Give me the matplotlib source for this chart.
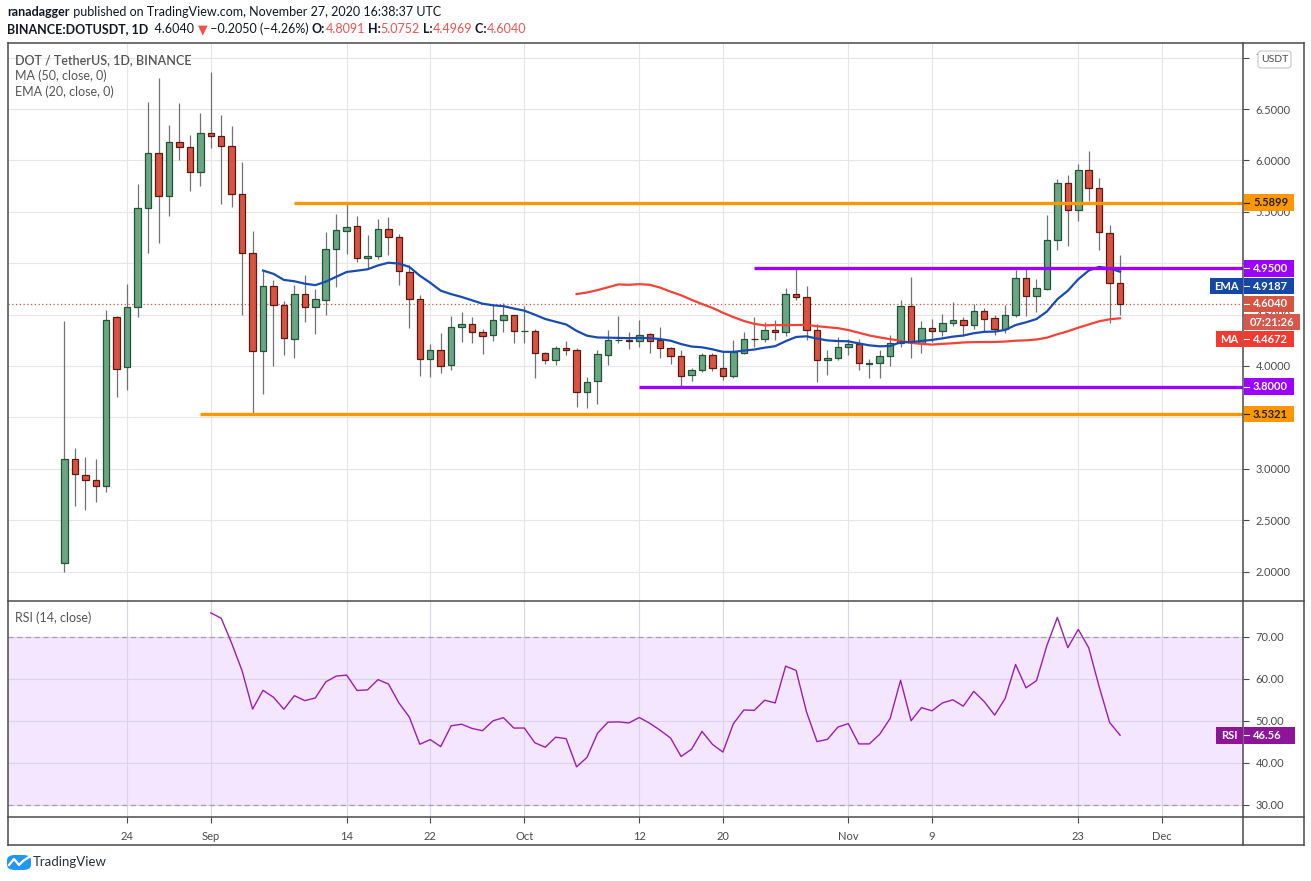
import numpy as np
import pandas as pd
import matplotlib
matplotlib.use("Agg")
import matplotlib.pyplot as plt
from matplotlib.patches import Rectangle, FancyBboxPatch
from matplotlib.lines import Line2D

# daily candles, Binance DOT/USDT, starting 2020-08-18
start_date = "2020-08-18"
opens = [2.087, 3.097, 2.941, 2.892, 2.833, 4.476, 3.986, 4.576, 5.538, 6.073,
         5.653, 6.177, 6.132, 5.889, 6.264, 6.236, 6.139, 5.674, 5.101, 4.146,
         4.778, 4.594, 4.264, 4.701, 4.576, 4.642, 5.139, 5.313, 5.361, 5.052,
         5.069, 5.333, 5.257, 4.917, 4.653, 4.068, 4.156, 4.010, 4.380, 4.409,
         4.331, 4.302, 4.448, 4.497, 4.341, 4.341, 4.127, 4.058, 4.175, 4.156,
         3.747, 3.854, 4.107, 4.250, 4.253, 4.244, 4.312, 4.253, 4.175, 4.097,
         3.912, 3.961, 4.107, 3.981, 3.903, 4.127, 4.263, 4.263, 4.351, 4.331,
         4.701, 4.672, 4.351, 4.058, 4.078, 4.182, 4.215, 4.020, 4.033, 4.098,
         4.221, 4.585, 4.221, 4.367, 4.338, 4.416, 4.446, 4.397, 4.533, 4.465,
         4.358, 4.498, 4.855, 4.680, 4.748, 5.229, 5.782, 5.519, 5.909, 5.733,
         5.294, 4.8091]
highs = [4.438, 3.198, 3.111, 3.090, 4.549, 4.490, 4.802, 5.774, 6.566, 6.806,
         6.347, 6.563, 6.250, 6.465, 6.861, 6.444, 6.337, 5.983, 5.313, 4.924,
         4.837, 4.628, 4.788, 4.889, 4.753, 5.299, 5.483, 5.583, 5.455, 5.278,
         5.427, 5.451, 5.281, 4.979, 4.688, 4.212, 4.325, 4.490, 4.526, 4.481,
         4.360, 4.591, 4.617, 4.500, 4.584, 4.360, 4.140, 4.195, 4.244, 4.175,
         3.893, 4.156, 4.354, 4.490, 4.334, 4.451, 4.321, 4.383, 4.185, 4.156,
         3.984, 4.127, 4.127, 4.136, 4.253, 4.331, 4.481, 4.429, 4.451, 4.756,
         4.948, 4.782, 4.409, 4.156, 4.282, 4.260, 4.260, 4.065, 4.156, 4.302,
         4.644, 4.862, 4.433, 4.459, 4.507, 4.621, 4.475, 4.605, 4.563, 4.498,
         4.595, 4.937, 4.946, 4.846, 5.473, 5.815, 5.857, 5.961, 6.091, 5.831,
         5.376, 5.0752]
lows = [2.000, 2.635, 2.597, 2.677, 2.771, 3.701, 3.771, 4.472, 5.097, 5.194,
        5.455, 6.000, 5.698, 5.750, 6.118, 5.573, 5.549, 4.493, 3.535, 3.726,
        4.000, 4.108, 4.076, 4.431, 4.309, 4.493, 4.767, 5.090, 5.014, 4.944,
        5.038, 5.083, 4.785, 4.368, 3.899, 3.892, 3.932, 3.958, 4.231, 4.221,
        4.114, 4.240, 4.328, 4.221, 4.221, 3.880, 4.016, 4.006, 4.104, 3.597,
        3.588, 3.630, 4.006, 4.221, 4.162, 4.185, 4.127, 4.078, 4.019, 3.795,
        3.854, 3.942, 3.951, 3.864, 3.883, 4.117, 4.185, 4.234, 4.253, 4.292,
        4.643, 4.250, 3.844, 3.912, 4.058, 4.107, 3.961, 3.880, 3.880, 4.000,
        4.189, 4.075, 4.124, 4.231, 4.296, 4.393, 4.296, 4.358, 4.345, 4.302,
        4.325, 4.481, 4.491, 4.530, 4.735, 5.125, 5.164, 5.408, 5.603, 5.125,
        4.423, 4.4969]
closes = [3.097, 2.951, 2.892, 2.833, 4.448, 3.972, 4.576, 5.538, 6.073, 5.653,
          6.177, 6.132, 5.889, 6.267, 6.236, 6.139, 5.674, 5.101, 4.146, 4.778,
          4.594, 4.274, 4.701, 4.576, 4.653, 5.139, 5.323, 5.354, 5.052, 5.069,
          5.333, 5.257, 4.922, 4.653, 4.068, 4.156, 4.000, 4.380, 4.409, 4.331,
          4.292, 4.448, 4.497, 4.341, 4.342, 4.127, 4.058, 4.175, 4.156, 3.747,
          3.847, 4.117, 4.253, 4.256, 4.244, 4.302, 4.244, 4.175, 4.097, 3.903,
          3.961, 4.107, 3.981, 3.903, 4.136, 4.263, 4.260, 4.351, 4.331, 4.701,
          4.672, 4.351, 4.058, 4.078, 4.185, 4.215, 4.026, 4.026, 4.098, 4.221,
          4.585, 4.231, 4.367, 4.338, 4.416, 4.446, 4.397, 4.533, 4.459, 4.358,
          4.498, 4.855, 4.680, 4.758, 5.229, 5.782, 5.519, 5.909, 5.733, 5.304,
          4.809, 4.6040]

# values printed on the scale tags
ema_last = 4.9187
ma_last = 4.4672
rsi_last = 46.56
countdown = "07:21:26"

# drawn horizontal levels: (price, start date, colour, tag text colour)
levels = [(5.5899, "2020-09-09", "#ff9800", "#222222"),
          (3.5321, "2020-08-31", "#ff9800", "#222222"),
          (4.9500, "2020-10-23", "#9c00ff", "white"),
          (3.8000, "2020-10-12", "#9c00ff", "white")]

tick_dates = ["2020-08-24", "2020-09-01", "2020-09-14", "2020-09-22", "2020-10-01",
              "2020-10-12", "2020-10-20", "2020-11-01", "2020-11-09", "2020-11-23",
              "2020-12-01"]
tick_labels = ["24", "Sep", "14", "22", "Oct", "12", "20", "Nov", "9", "23", "Dec"]

price_ticks = [2.0, 2.5, 3.0, 3.5, 4.0, 4.5, 5.0, 5.5, 6.0, 6.5, 7.0]
rsi_ticks = [30, 40, 50, 60, 70]

W, H = 1311, 881
ORIGIN = pd.Timestamp("2020-09-01")
PMIN, PMAX = 1.713, 7.143
RMIN, RMAX = 27.14, 78.57
XMIN, XMAX = -19.4, 98.76
GREY = "#4b4b4b"
FRAME = "#4a4a4a"

plt.rcParams['font.family'] = ['Lato', 'DejaVu Sans']


def fx(px):
    return px / W


def fy(py):
    return 1 - py / H


def days(d):
    return (pd.Timestamp(d) - ORIGIN).days


def ema_calc(c, n):
    out = np.full(len(c), np.nan)
    out[n - 1] = c[:n].mean()
    a = 2 / (n + 1)
    for i in range(n, len(c)):
        out[i] = a * c[i] + (1 - a) * out[i - 1]
    return out


def rsi_calc(c, n):
    ch = np.diff(c)
    up = np.maximum(ch, 0)
    dn = np.maximum(-ch, 0)
    out = np.full(len(c), np.nan)
    au, ad = up[:n].mean(), dn[:n].mean()
    out[n] = 100 - 100 / (1 + au / ad)
    for i in range(n + 1, len(c)):
        au = (au * (n - 1) + up[i - 1]) / n
        ad = (ad * (n - 1) + dn[i - 1]) / n
        out[i] = 100 - 100 / (1 + au / ad)
    return out


o = np.array(opens)
h = np.array(highs)
l = np.array(lows)
c = np.array(closes)
x = np.array([(d - ORIGIN).days for d in pd.date_range(start_date, periods=len(c))])

ma = pd.Series(c).rolling(50).mean().to_numpy()
ema = ema_calc(c, 20)
rsi = rsi_calc(c, 14)

fig = plt.figure(figsize=(W / 100, H / 100), dpi=100)
ax = fig.add_axes([fx(8), fy(601), (1243 - 8) / W, (601 - 43) / H])
ax2 = fig.add_axes([fx(8), fy(817), (1243 - 8) / W, (817 - 601) / H])

xt = [days(d) for d in tick_dates]

# ---- price pane ----
ax.set_xlim(XMIN, XMAX)
ax.set_ylim(PMIN, PMAX)
ax.set_xticks(xt)
ax.set_yticks(price_ticks)
ax.set_yticklabels(["%.4f" % p for p in price_ticks])
ax.yaxis.tick_right()
ax.tick_params(axis='y', direction='out', length=4, width=0.8, pad=5,
               labelsize=8, colors=FRAME, labelcolor=GREY)
ax.tick_params(axis='x', length=0, labelbottom=False)
ax.grid(True, color="#e6e6e6", lw=0.8)
ax.set_axisbelow(True)
for s in ax.spines.values():
    s.set_visible(False)

up = c >= o
body_lo = np.minimum(o, c)
body_h = np.abs(c - o)
ax.vlines(x, l, h, color="#737375", lw=0.9, zorder=2)
ax.bar(x[up], body_h[up], bottom=body_lo[up], width=0.62, color="#6ba583",
       edgecolor="#225437", lw=0.9, zorder=3)
ax.bar(x[~up], body_h[~up], bottom=body_lo[~up], width=0.62, color="#d75442",
       edgecolor="#5b1a13", lw=0.9, zorder=3)

ax.plot(x, ma, color="#f44336", lw=1.6, zorder=4)
ax.plot(x, ema, color="#1a4bb0", lw=1.6, zorder=4)

for price, d0, col, tc in levels:
    ax.hlines(price, days(d0), XMAX, color=col, lw=2.4, zorder=5)

ax.axhline(c[-1], color="#d75442", lw=0.9, ls=(0, (1, 2)), zorder=1.5)

ax.text(fx(15), fy(60), "DOT / TetherUS, 1D, BINANCE", transform=fig.transFigure,
        fontsize=9, fontweight='semibold', color="#555555", va='center')
ax.text(fx(15), fy(76), "MA (50, close, 0)", transform=fig.transFigure,
        fontsize=9, color="#555555", va='center')
ax.text(fx(15), fy(92), "EMA (20, close, 0)", transform=fig.transFigure,
        fontsize=9, color="#555555", va='center')

# ---- RSI pane ----
ax2.set_xlim(XMIN, XMAX)
ax2.set_ylim(RMIN, RMAX)
ax2.axhspan(30, 70, color="#f4e6fe", zorder=0.3, lw=0)
ax2.set_xticks(xt)
ax2.set_xticklabels(tick_labels)
ax2.grid(True, color="#ddd3e6", lw=0.8)
ax2.set_axisbelow(True)
ax2.hlines([30, 70], XMIN, XMAX, color="#a89ab0", lw=0.9, ls=(0, (4, 3)), zorder=1)
ax2.plot(x, rsi, color="#9a1fb0", lw=1.0, zorder=3)
ax2.yaxis.tick_right()
ax2.set_yticks(rsi_ticks)
ax2.set_yticklabels(["%.2f" % r for r in rsi_ticks])
ax2.tick_params(axis='y', direction='out', length=4, width=0.8, pad=5,
                labelsize=8, colors=FRAME, labelcolor=GREY)
ax2.tick_params(axis='x', direction='out', length=4, width=0.8, pad=6,
                labelsize=8, colors=FRAME, labelcolor=GREY)
for s in ax2.spines.values():
    s.set_visible(False)
ax2.text(fx(15), fy(618), "RSI (14, close)", transform=fig.transFigure,
         fontsize=9, color="#555555", va='center')

# ---- frame lines ----
frame = [((8, 1304), (43, 43)), ((8, 1304), (601, 601)), ((8, 1304), (817, 817)),
         ((8, 1304), (845, 845)), ((8, 8), (43, 845)), ((1243, 1243), (43, 845)),
         ((1304, 1304), (43, 845))]
for xs, ys in frame:
    fig.add_artist(Line2D([fx(xs[0]), fx(xs[1])], [fy(ys[0]), fy(ys[1])],
                          transform=fig.transFigure, color=FRAME, lw=1.1, zorder=4))


def box(x0, x1, py, fc, txt, tc="white", tick=True):
    fig.add_artist(Rectangle((fx(x0), fy(py + 8.3)), (x1 - x0) / W, 16.6 / H,
                             transform=fig.transFigure, fc=fc, ec='none', zorder=5))
    if tick:
        fig.add_artist(Line2D([fx(x0), fx(x0 + 5)], [fy(py), fy(py)],
                              transform=fig.transFigure, color=tc, lw=0.8, zorder=6))
        fig.text(fx(x0 + 9), fy(py), txt, color=tc, fontsize=8, fontweight='bold',
                 va='center', ha='left', zorder=6)
    else:
        fig.text(fx((x0 + x1) / 2), fy(py), txt, color=tc, fontsize=8,
                 fontweight='bold', va='center', ha='center', zorder=6)


def ppx(p):
    return 43 + (PMAX - p) / (PMAX - PMIN) * 558


def rpx(r):
    return 601 + (RMAX - r) / (RMAX - RMIN) * 216


for price, d0, col, tc in levels:
    box(1244, 1294, ppx(price), col, "%.4f" % price, tc=tc)
box(1210, 1243, 286, "#1547a6", "EMA", tick=False)
box(1244, 1294, 286, "#1547a6", "%.4f" % ema_last)
box(1244, 1294, ppx(c[-1]), "#d75442", "%.4f" % c[-1])
box(1244, 1300, 322, "#d9574a", countdown, tick=False)
box(1216, 1243, 339, "#f23a30", "MA", tick=False)
box(1244, 1294, 339, "#f23a30", "%.4f" % ma_last)
box(1216, 1243, rpx(rsi_last), "#8e1599", "RSI", tick=False)
box(1244, 1295, rpx(rsi_last), "#8e1599", "%.2f" % rsi_last)

fig.add_artist(FancyBboxPatch((fx(1258), fy(68)), 33 / W, 17 / H,
                              boxstyle="round,pad=0,rounding_size=0.003",
                              transform=fig.transFigure, fc="white", ec="#c8c8c8",
                              lw=0.8, zorder=5))
fig.text(fx(1274.5), fy(59.5), "USDT", color=GREY, fontsize=7.5, ha='center',
         va='center', zorder=6)

# ---- header ----
renderer = fig.canvas.get_renderer()


def chain(px, py, parts, size=9):
    for s, col, wt in parts:
        t = fig.text(fx(px), fy(py), s, color=col, fontweight=wt, fontsize=size,
                     va='center', ha='left')
        px += t.get_window_extent(renderer).width


RED = "#ef5350"
chain(7, 12, [("ranadagger", "#131722", "bold"),
              (" published on TradingView.com, November 27, 2020 16:38:37 UTC", "#131722", "normal")])
chain(7, 29, [("BINANCE:DOTUSDT, 1D", "#131722", "bold"),
              ("  4.6040 ", "#131722", "normal"), ("\u25bc", RED, "normal"),
              (" \u22120.2050 (\u22124.26%) ", "#131722", "normal"),
              ("O:", "#131722", "bold"), ("4.8091", RED, "normal"),
              (" H:", "#131722", "bold"), ("5.0752", RED, "normal"),
              (" L:", "#131722", "bold"), ("4.4969", RED, "normal"),
              (" C:", "#131722", "bold"), ("4.6040", RED, "normal")])

# ---- footer logo ----
fig.add_artist(FancyBboxPatch((fx(7), fy(870)), 24 / W, 15 / H,
                              boxstyle="round,pad=0,rounding_size=0.006",
                              transform=fig.transFigure, fc="#2196f3", ec='none'))
fig.add_artist(Line2D([fx(9), fx(14), fx(19), fx(23), fx(29)],
                      [fy(865), fy(859), fy(865), fy(861), fy(857)],
                      transform=fig.transFigure, color="white", lw=1.6))
fig.text(fx(33), fy(862), "TradingView", color="#2a2e39", fontsize=9.5,
         va='center', ha='left')

fig.savefig("out.png", dpi=100)
